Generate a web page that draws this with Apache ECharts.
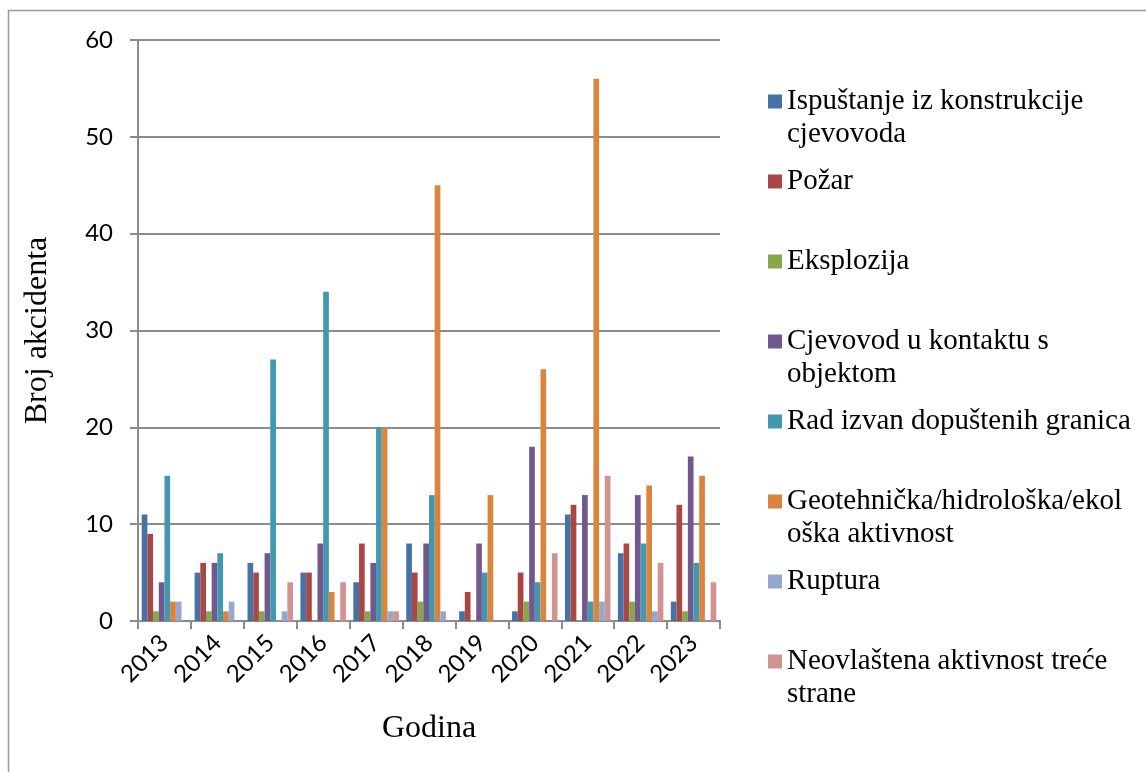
<!DOCTYPE html>
<html>
<head>
<meta charset="utf-8">
<script src="https://cdn.jsdelivr.net/npm/echarts@6/dist/echarts.min.js"></script>
<style>
  html, body { margin: 0; padding: 0; background: #fff; }
  #chart { width: 1146px; height: 772px; }
</style>
</head>
<body>
<div id="chart"></div>
<script>
var godine = ['2013', '2014', '2015', '2016', '2017', '2018', '2019', '2020', '2021', '2022', '2023'];

var ispustanje = [11, 5, 6, 5, 4, 8, 1, 1, 11, 7, 2];
var pozar = [9, 6, 5, 5, 8, 5, 3, 5, 12, 8, 12];
var eksplozija = [1, 1, 1, 0, 1, 2, 0, 2, 0, 2, 1];
var cjevovodKontakt = [4, 6, 7, 8, 6, 8, 8, 18, 13, 13, 17];
var radIzvan = [15, 7, 27, 34, 20, 13, 5, 4, 2, 8, 6];
var geotehnicka = [2, 1, 0, 3, 20, 45, 13, 26, 56, 14, 15];
var ruptura = [2, 2, 1, 0, 1, 1, 0, 0, 2, 1, 0];
var neovlastena = [0, 0, 4, 4, 1, 0, 0, 7, 15, 6, 4];

var nazivi = [
    'Ispuštanje iz konstrukcije\ncjevovoda',
    'Požar',
    'Eksplozija',
    'Cjevovod u kontaktu s\nobjektom',
    'Rad izvan dopuštenih granica',
    'Geotehnička/hidrološka/ekol\noška aktivnost',
    'Ruptura',
    'Neovlaštena aktivnost treće\nstrane'
];
var vrijednosti = [ispustanje, pozar, eksplozija, cjevovodKontakt, radIzvan, geotehnicka, ruptura, neovlastena];
var boje = ['#4572A7', '#AA4643', '#89A54E', '#71588F', '#4198AF', '#DB843D', '#93A9CF', '#D19392'];

var chart = echarts.init(document.getElementById('chart'));

var serije = nazivi.map(function (n, i) {
    return {
        name: n,
        type: 'bar',
        data: vrijednosti[i],
        barGap: '0%',
        barCategoryGap: '14%',
        itemStyle: { color: boje[i] }
    };
});

// jedna legenda po stavci, razmak 80px kao u originalu
// kod dvorednih naziva prazan red iznad drži oznaku uz prvi red
var legende = nazivi.map(function (n, i) {
    var dvaReda = n.indexOf('\n') >= 0;
    var centar = 96.5 + 80 * i;
    return {
        data: [n],
        left: 763,
        top: dvaReda ? centar - 49.5 : centar - 16.5,
        itemWidth: 14,
        itemHeight: 14,
        icon: 'rect',
        selectedMode: false,
        formatter: function (name) {
            return name.indexOf('\n') >= 0 ? '\n' + name : name;
        },
        textStyle: {
            fontFamily: 'Liberation Serif',
            fontSize: 29,
            color: '#000',
            lineHeight: 33
        }
    };
});

var option = {
    animation: false,
    backgroundColor: '#fff',
    grid: { left: 138, right: 426, top: 40, bottom: 151 },
    legend: legende,
    xAxis: {
        type: 'category',
        data: godine,
        name: 'Godina',
        nameLocation: 'middle',
        nameGap: 92,
        nameTextStyle: { fontFamily: 'Liberation Serif', fontSize: 32, color: '#000' },
        axisLine: { lineStyle: { color: '#8c8c8c', width: 2 } },
        axisTick: { show: true, length: 8, lineStyle: { color: '#8c8c8c', width: 2 } },
        axisLabel: { rotate: 45, margin: 18, fontFamily: 'Lato', fontSize: 24, color: '#000' }
    },
    yAxis: {
        type: 'value',
        min: 0,
        max: 60,
        interval: 10,
        name: 'Broj akcidenta',
        nameLocation: 'middle',
        nameGap: 84,
        nameTextStyle: { fontFamily: 'Liberation Serif', fontSize: 32, color: '#000' },
        axisLine: { show: true, lineStyle: { color: '#8c8c8c', width: 2 } },
        axisTick: { show: true, length: 8, lineStyle: { color: '#8c8c8c', width: 2 } },
        axisLabel: { margin: 25, fontFamily: 'Lato', fontSize: 24, color: '#000' },
        splitLine: { lineStyle: { color: '#8c8c8c', width: 2 } }
    },
    graphic: [{
        type: 'rect',
        shape: { x: 8.5, y: 10.5, width: 1200, height: 800 },
        style: { fill: 'none', stroke: '#9a9a9a', lineWidth: 1.5 },
        silent: true
    }],
    series: serije
};

chart.setOption(option);
</script>
</body>
</html>
